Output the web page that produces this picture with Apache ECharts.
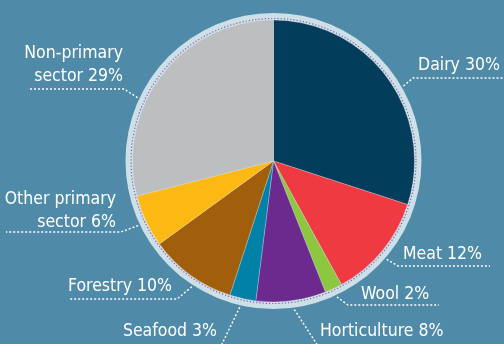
<!DOCTYPE html>
<html>
<head>
<meta charset="utf-8">
<script src="https://cdn.jsdelivr.net/npm/echarts@6/dist/echarts.min.js"></script>
<style>
html,body{margin:0;padding:0;background:#4f8ba9;}
#chart{width:504px;height:344px;}
</style>
</head>
<body>
<div id="chart"></div>
<script>
// ---- data ----
const categories = ['Dairy', 'Meat', 'Wool', 'Horticulture', 'Seafood', 'Forestry', 'Other primary\nsector', 'Non-primary\nsector'];
const values = [30, 12, 2, 8, 3, 10, 6, 29];
const colors = ['#023d5c', '#ef3a42', '#8dc63f', '#6d2a8e', '#0081a8', '#a25f0b', '#fdb913', '#bcbec0'];

// ---- layout (styles / positions) ----
const CX = 273.5, CY = 161, R = 141;
// anchor angle (deg, clockwise from 12 o'clock) where each leader line touches the ring,
// label text box (x, top y, align), bend point and end point of the dotted leader
const labelLayouts = [
  {ang: 60,  x: 418, y: 54,  align: 'left',  bend: [413, 78],  end: [506, 78]},
  {ang: 131, x: 403, y: 243, align: 'left',  bend: [398, 266], end: [490, 266]},
  {ang: 155, x: 361, y: 283, align: 'left',  bend: [348, 305], end: [439, 305]},
  {ang: 172, x: 320, y: 320, align: 'left',  bend: [318, 346], end: [450, 346]},
  {ang: 193, x: 217, y: 320, align: 'right', bend: [221, 346], end: [110, 346]},
  {ang: 213, x: 172, y: 275, align: 'right', bend: [177, 299], end: [70, 299]},
  {ang: 244.5, x: 116, y: 188, align: 'right', bend: [121, 232], end: [6, 232]},
  {ang: 295, x: 123, y: 42,  align: 'right', bend: [124, 89], end: [28, 89]}
];

function edgePoint(angDeg, r) {
  const a = angDeg * Math.PI / 180;
  return [CX + r * Math.sin(a), CY - r * Math.cos(a)];
}

const chart = echarts.init(document.getElementById('chart'), null, {renderer: 'canvas'});
const FONT = "'Liberation Sans Narrow', 'DejaVu Sans Condensed', 'Roboto Condensed', sans-serif";

chart.setOption({
  backgroundColor: '#4f8ba9',
  animation: false,
  graphic: [
    {type: 'circle', shape: {cx: CX, cy: CY, r: 148}, style: {fill: '#cde0e8'}, z: 0, silent: true},
    {type: 'circle', shape: {cx: CX, cy: CY, r: 142.5}, style: {fill: 'none', stroke: '#8a5cb0', lineWidth: 1.2, lineDash: [1.2, 2]}, z: 0, silent: true}
  ],
  series: [{
    type: 'pie',
    center: [CX, CY],
    radius: [0, R],
    startAngle: 90,
    clockwise: true,
    z: 5,
    silent: true,
    itemStyle: {borderColor: 'rgba(220,230,235,0.6)', borderWidth: 0.5},
    label: {
      show: true,
      position: 'outside',
      color: '#ffffff',
      fontFamily: FONT,
      fontSize: 17.5,
      lineHeight: 23,
      overflow: 'none',
      formatter: p => p.name + ' ' + p.value + '%'
    },
    labelLine: {
      show: true,
      lineStyle: {color: '#ffffff', width: 1.4, type: [2, 2]}
    },
    labelLayout: function (params) {
      const L = labelLayouts[params.dataIndex];
      return {
        x: L.x,
        y: L.y,
        align: L.align,
        verticalAlign: 'top',
        labelLinePoints: [edgePoint(L.ang, 150), L.bend, L.end]
      };
    },
    data: categories.map((c, i) => ({name: c, value: values[i], itemStyle: {color: colors[i]}}))
  }]
});
</script>
</body>
</html>
